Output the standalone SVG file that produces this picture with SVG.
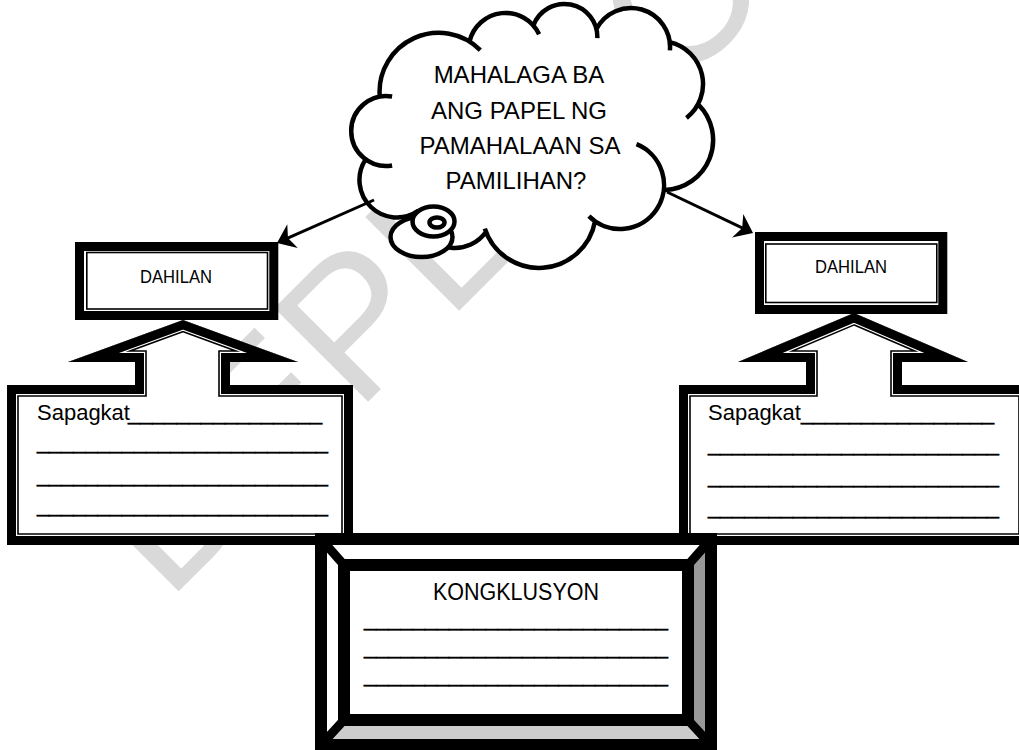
<svg xmlns="http://www.w3.org/2000/svg" width="1019" height="750" viewBox="0 0 1019 750">
<defs>
<style>
.t{font-family:"Liberation Sans",Arial,sans-serif;fill:#000}
.u{font-family:"Liberation Sans",Arial,sans-serif;fill:#000;stroke:#000;stroke-width:0.5}
.wm{font-family:"Liberation Sans",Arial,sans-serif;fill:#d9d9d9}
.cl{fill:none;stroke:#000;stroke-width:4.5}
.bub{fill:#fff;stroke:#000;stroke-width:4.5}
.conn{fill:none;stroke:#000;stroke-width:3}
.b1{fill:none;stroke:#000;stroke-width:23.6;stroke-linejoin:miter;stroke-miterlimit:20}
.b2{fill:none;stroke:#fff;stroke-width:20.4;stroke-linejoin:miter;stroke-miterlimit:20}
.b3{fill:none;stroke:#000;stroke-width:18;stroke-linejoin:miter;stroke-miterlimit:20}
.thick{fill:#fff;stroke:#000;stroke-width:9}
.thin{fill:none;stroke:#000;stroke-width:1.6}
.fr{fill:none;stroke:#000;stroke-width:12}
</style>
<marker id="ah" viewBox="0 0 22 26" refX="14" refY="13" markerWidth="22" markerHeight="26" markerUnits="userSpaceOnUse" orient="auto">
<path d="M22,13 L5,0 L10,13 L5,26 Z" fill="#000"/>
</marker>
<path id="shL" d="M7,545 L7,385 L135,385 L135,362 L68,362 L183,320 L298,362 L230,362 L230,385 L353,385 L353,545 Z"/>
<path id="shR" d="M679,545 L679,385 L806,385 L806,362 L738,362 L854,313 L968,362 L902,362 L902,385 L1030,385 L1030,545 Z"/>
<clipPath id="cL"><use href="#shL"/></clipPath>
<clipPath id="cR"><use href="#shR"/></clipPath>
</defs>
<rect x="0" y="0" width="1019" height="750" fill="#fff"/>
<g id="watermark">
<text class="wm" transform="translate(178,592) rotate(-45)" x="-15" y="0" font-size="193">DEPED COPY</text>
</g>
<g id="cloud">
<g fill="#fff">
<polygon points="397,180 386,131 438.6,91.8 505.6,49.9 564.3,37 631,47 660,84 663,140 620,185 539,211 455,210"/>
<circle cx="397" cy="180" r="37.5"/>
<circle cx="386" cy="131" r="35"/>
<circle cx="438.6" cy="91.8" r="59"/>
<circle cx="505.6" cy="49.9" r="37"/>
<circle cx="564.3" cy="37" r="33"/>
<circle cx="631" cy="47" r="39"/>
<circle cx="660" cy="84" r="43"/>
<circle cx="663" cy="140" r="50"/>
<circle cx="620" cy="185" r="44"/>
<circle cx="539" cy="211" r="57"/>
<circle cx="455" cy="210" r="38"/>
</g>
<path class="cl" d="M418.5,210.7 A37.5,37.5 0 0 1 365.5,159.6 M392.1,165.5 A35,35 0 1 1 392.1,96.5 M379.7,95.9 A59,59 0 0 1 480.3,50.1 M469.5,41.6 A37,37 0 0 1 539.1,34.3 M533.3,25.7 A33,33 0 0 1 597.3,38.2 M596.3,29.3 A39,39 0 0 1 669.9,50.4 M669.7,42.1 A43,43 0 0 1 686.5,117.9 M698.4,104.6 A50,50 0 0 1 664.7,190 M636.5,144.2 A44,44 0 1 1 588.9,216.1 M595.1,220.9 A57,57 0 0 1 484.8,228.6 M486.1,231.8 A38,38 0 0 1 420,224.8"/>
<ellipse class="bub" cx="421.5" cy="237" rx="31" ry="20"/>
<ellipse class="bub" cx="433.5" cy="221.5" rx="21" ry="15"/>
<ellipse class="bub" cx="437" cy="222.5" rx="7.5" ry="5"/>
<text class="t" font-size="24" text-anchor="middle" x="519" y="83">MAHALAGA BA</text>
<text class="t" font-size="24" text-anchor="middle" x="519" y="119">ANG PAPEL NG</text>
<text class="t" font-size="24" text-anchor="middle" x="520" y="154">PAMAHALAAN SA</text>
<text class="t" font-size="24" text-anchor="middle" x="516" y="189">PAMILIHAN?</text>
</g>
<g id="sapagkat-left">
<use href="#shL" fill="#fff"/>
<g clip-path="url(#cL)">
<use href="#shL" class="b1"/>
<use href="#shL" class="b2"/>
<use href="#shL" class="b3"/>
</g>
<text class="t" font-size="22" x="37" y="419.5">Sapagkat</text>
<text class="u" font-size="22" x="128" y="419.5" textLength="194" lengthAdjust="spacingAndGlyphs">________________</text>
<text class="u" font-size="22" x="37" y="449" textLength="291" lengthAdjust="spacingAndGlyphs">________________________</text>
<text class="u" font-size="22" x="37" y="481.5" textLength="291" lengthAdjust="spacingAndGlyphs">________________________</text>
<text class="u" font-size="22" x="37" y="512" textLength="291" lengthAdjust="spacingAndGlyphs">________________________</text>
</g>
<g id="sapagkat-right">
<use href="#shR" fill="#fff"/>
<g clip-path="url(#cR)">
<use href="#shR" class="b1"/>
<use href="#shR" class="b2"/>
<use href="#shR" class="b3"/>
</g>
<text class="t" font-size="22" x="708" y="419.5">Sapagkat</text>
<text class="u" font-size="22" x="801" y="419.5" textLength="193" lengthAdjust="spacingAndGlyphs">________________</text>
<text class="u" font-size="22" x="708" y="450.5" textLength="291" lengthAdjust="spacingAndGlyphs">________________________</text>
<text class="u" font-size="22" x="708" y="482.5" textLength="291" lengthAdjust="spacingAndGlyphs">________________________</text>
<text class="u" font-size="22" x="708" y="514" textLength="291" lengthAdjust="spacingAndGlyphs">________________________</text>
</g>
<g id="dahilan-left">
<rect class="thick" x="79.5" y="246.5" width="194.3" height="69"/>
<rect class="thin" x="86.8" y="252.5" width="180.7" height="56.5"/>
<text class="t" font-size="18.5" text-anchor="middle" x="176" y="283" textLength="72" lengthAdjust="spacingAndGlyphs">DAHILAN</text>
</g>
<g id="dahilan-right">
<rect class="thick" x="759.5" y="236.5" width="183.3" height="73"/>
<rect class="thin" x="765.8" y="244" width="171" height="58.5"/>
<text class="t" font-size="18.5" text-anchor="middle" x="851" y="273" textLength="72" lengthAdjust="spacingAndGlyphs">DAHILAN</text>
</g>
<g id="konklusyon">
<rect x="315" y="533" width="402" height="218" fill="#fff"/>
<polygon points="321,539 711,539 688,565 344,565" fill="#fff"/>
<polygon points="321,539 344,565 344,720 321,745" fill="#fff"/>
<polygon points="711,539 711,745 688,720 688,565" fill="#999"/>
<polygon points="321,745 344,720 688,720 711,745" fill="#ccc"/>
<rect class="fr" x="321" y="539" width="390" height="206"/>
<rect class="fr" x="344" y="565" width="344" height="155" fill="#fff"/>
<path d="M321,539 L344,565 M711,539 L688,565 M321,745 L344,720 M711,745 L688,720" stroke="#000" stroke-width="9" fill="none"/>
<text class="t" font-size="23" text-anchor="middle" x="516" y="600" textLength="166" lengthAdjust="spacingAndGlyphs">KONGKLUSYON</text>
<text class="u" font-size="22" x="364" y="626" textLength="304" lengthAdjust="spacingAndGlyphs">_________________________</text>
<text class="u" font-size="22" x="364" y="654" textLength="304" lengthAdjust="spacingAndGlyphs">_________________________</text>
<text class="u" font-size="22" x="364" y="682" textLength="304" lengthAdjust="spacingAndGlyphs">_________________________</text>
</g>
<g id="connectors">
<path class="conn" d="M374,200 L284.3,239.7" marker-end="url(#ah)"/>
<path class="conn" d="M667,192 L745.8,229.6" marker-end="url(#ah)"/>
</g>
</svg>
